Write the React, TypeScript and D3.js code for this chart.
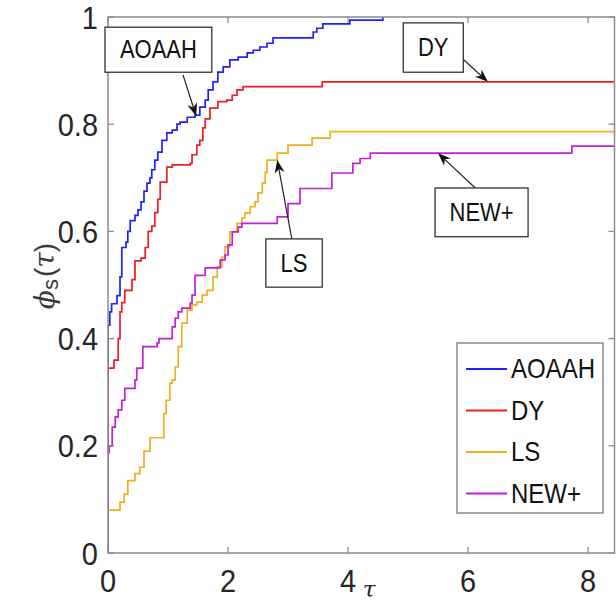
import React from 'react';
import * as d3 from 'd3';

// performance profile, step curves
const seriesNames = ['AOAAH', 'DY', 'LS', 'NEW+'];
const seriesColors = ['#1f1fff', '#ee1c24', '#edb120', '#c21fd9'];

const aoaah: [number, number][] = [
  [0, 0], [0, 0.425], [0.03, 0.45], [0.06, 0.465], [0.15, 0.48], [0.2, 0.515], [0.23, 0.57], [0.3, 0.58],
  [0.33, 0.6], [0.37, 0.62], [0.45, 0.63], [0.5, 0.64], [0.55, 0.655], [0.6, 0.675], [0.65, 0.69], [0.7, 0.7],
  [0.73, 0.715], [0.78, 0.733], [0.83, 0.748], [0.9, 0.77], [0.98, 0.784], [1.07, 0.789], [1.15, 0.8],
  [1.2, 0.804], [1.32, 0.813], [1.45, 0.817], [1.53, 0.832], [1.62, 0.845], [1.67, 0.864], [1.75, 0.879],
  [1.83, 0.897], [1.92, 0.907], [2.03, 0.92], [2.17, 0.925], [2.32, 0.933], [2.42, 0.938], [2.53, 0.944],
  [2.65, 0.951], [2.75, 0.961], [3.42, 0.972], [3.48, 0.979], [3.58, 0.987], [4.03, 0.994], [4.58, 1.0],
];
const dy: [number, number][] = [
  [0, 0], [0, 0.345], [0.1, 0.36], [0.17, 0.4], [0.2, 0.45], [0.23, 0.467], [0.28, 0.49], [0.4, 0.51],
  [0.45, 0.545], [0.55, 0.55], [0.62, 0.57], [0.67, 0.6], [0.73, 0.61], [0.78, 0.635], [0.83, 0.66],
  [0.87, 0.692], [0.98, 0.72], [1.07, 0.724], [1.37, 0.727], [1.4, 0.743], [1.48, 0.761], [1.53, 0.77],
  [1.58, 0.793], [1.62, 0.81], [1.7, 0.83], [1.83, 0.842], [1.98, 0.845], [2.07, 0.854], [2.15, 0.864],
  [2.25, 0.87], [3.57, 0.879], [8.44, 0.879],
];
const ls: [number, number][] = [
  [0, 0], [0, 0.08], [0.2, 0.095], [0.27, 0.11], [0.33, 0.135], [0.45, 0.148], [0.53, 0.16], [0.6, 0.19],
  [0.7, 0.215], [0.93, 0.26], [0.97, 0.285], [1.03, 0.317], [1.07, 0.323], [1.12, 0.347], [1.17, 0.385],
  [1.23, 0.429], [1.32, 0.453], [1.4, 0.463], [1.48, 0.468], [1.57, 0.481], [1.65, 0.49], [1.75, 0.515],
  [1.82, 0.534], [1.9, 0.552], [1.95, 0.571], [2.03, 0.599], [2.15, 0.615], [2.23, 0.625], [2.28, 0.634],
  [2.37, 0.646], [2.45, 0.655], [2.5, 0.672], [2.57, 0.69], [2.62, 0.71], [2.65, 0.733], [2.82, 0.746],
  [3.0, 0.761], [3.4, 0.774], [3.7, 0.786], [8.44, 0.786],
];
const newPlus: [number, number][] = [
  [0, 0], [0, 0.187], [0.02, 0.2], [0.07, 0.235], [0.12, 0.254], [0.17, 0.267], [0.23, 0.285], [0.28, 0.307],
  [0.45, 0.323], [0.48, 0.345], [0.58, 0.385], [0.82, 0.392], [0.85, 0.4], [1.07, 0.422], [1.12, 0.438],
  [1.17, 0.45], [1.23, 0.457], [1.37, 0.466], [1.4, 0.481], [1.45, 0.518], [1.62, 0.532], [1.87, 0.547],
  [1.95, 0.556], [2.0, 0.575], [2.07, 0.599], [2.17, 0.608], [2.23, 0.615], [2.82, 0.627], [3.0, 0.652],
  [3.2, 0.68], [3.73, 0.709], [4.08, 0.727], [4.2, 0.736], [4.37, 0.746], [7.73, 0.759], [8.44, 0.759],
];
const seriesData = [aoaah, dy, ls, newPlus];

const xTicks = [0, 2, 4, 6, 8];
const yTicks = [0, 0.2, 0.4, 0.6, 0.8, 1];

// text boxes with arrows, in data units
const annotations = [
  { label: 'AOAAH', box: [-0.05, 0.981, 1.73, 0.897], tail: [1.25, 0.892], head: [1.47, 0.815] },
  { label: 'DY', box: [4.92, 0.989, 5.92, 0.897], tail: [5.9, 0.923], head: [6.33, 0.879] },
  { label: 'NEW+', box: [5.45, 0.681, 7.0, 0.59], tail: [6.12, 0.681], head: [5.5, 0.746] },
  { label: 'LS', box: [2.63, 0.586, 3.57, 0.496], tail: [3.07, 0.582], head: [2.82, 0.733] },
];

const W = 616;
const H = 607;
const m = { left: 108, right: 614.5, top: 17, bottom: 553 };
const font = '"Liberation Sans", Arial, Helvetica, sans-serif';
const serif = '"DejaVu Serif", serif';

function Txt({ x, y, size, sy = 1.1, anchor = 'start', fill = '#262626', children }: any) {
  return (
    <text
      transform={`translate(${x},${y}) scale(1,${sy})`}
      fontSize={size}
      fontFamily={font}
      textAnchor={anchor}
      dominantBaseline="central"
      fill={fill}
    >
      {children}
    </text>
  );
}

export default function App() {
  const x = d3.scaleLinear().domain([0, 8.44]).range([m.left, m.right]);
  const y = d3.scaleLinear().domain([0, 1]).range([m.bottom, m.top]);
  const line = d3
    .line<[number, number]>()
    .x((d) => x(d[0]))
    .y((d) => y(d[1]))
    .curve(d3.curveStepAfter);

  const axisColor = '#8c8c8c';
  const tickLen = 6;

  return (
    <svg width={W} height={H} style={{ position: 'absolute', left: 0, top: 0, background: '#fff' }}>
      <defs>
        <clipPath id="plot">
          <rect x={m.left} y={m.top - 2} width={m.right - m.left} height={m.bottom - m.top + 2} />
        </clipPath>
      </defs>
      <rect width={W} height={H} fill="#fff" />

      {/* curves */}
      <g clipPath="url(#plot)">
        {seriesData.map((s, i) => (
          <path key={i} d={line(s) || ''} fill="none" stroke={seriesColors[i]} strokeWidth={1.7} />
        ))}
      </g>

      {/* axes box */}
      <rect
        x={m.left}
        y={m.top}
        width={m.right - m.left}
        height={m.bottom - m.top}
        fill="none"
        stroke={axisColor}
        strokeWidth={1.5}
      />
      {xTicks.map((t) => (
        <g key={'x' + t}>
          <line x1={x(t)} x2={x(t)} y1={m.bottom} y2={m.bottom - tickLen} stroke={axisColor} strokeWidth={1.3} />
          <line x1={x(t)} x2={x(t)} y1={m.top} y2={m.top + tickLen} stroke={axisColor} strokeWidth={1.3} />
          <Txt x={x(t)} y={580} size={29} anchor="middle">
            {String(t)}
          </Txt>
        </g>
      ))}
      {yTicks.map((t) => (
        <g key={'y' + t}>
          <line x1={m.left} x2={m.left + tickLen} y1={y(t)} y2={y(t)} stroke={axisColor} strokeWidth={1.3} />
          <line x1={m.right} x2={m.right - tickLen} y1={y(t)} y2={y(t)} stroke={axisColor} strokeWidth={1.3} />
          <Txt x={98} y={y(t)} size={29} anchor="end">
            {String(t)}
          </Txt>
        </g>
      ))}

      {/* axis labels */}
      <text x={369} y={589} fontSize={23} fontFamily={serif} fontStyle="italic" textAnchor="middle" dominantBaseline="central" fill="#262626">
        τ
      </text>
      <text
        transform="translate(44,276) rotate(-90)"
        fontSize={28}
        fontFamily={font}
        textAnchor="middle"
        dominantBaseline="central"
        fill="#3a3a3a"
      >
        <tspan fontStyle="italic" fontFamily={serif}>ϕ</tspan>
        <tspan fontSize={22} dy={6}>s</tspan>
        <tspan dy={-6} dx={2}>(</tspan>
        <tspan fontStyle="italic" fontFamily={serif}>τ</tspan>
        <tspan>)</tspan>
      </text>

      {/* annotations */}
      {annotations.map((a) => {
        const bx0 = x(a.box[0]);
        const by0 = y(a.box[1]);
        const bx1 = x(a.box[2]);
        const by1 = y(a.box[3]);
        const tx = x(a.tail[0]);
        const ty = y(a.tail[1]);
        const hx = x(a.head[0]);
        const hy = y(a.head[1]);
        const ang = Math.atan2(hy - ty, hx - tx);
        const L = 13;
        const hw = 5;
        const bx = hx - L * Math.cos(ang);
        const by = hy - L * Math.sin(ang);
        const p1 = [bx + hw * Math.sin(ang), by - hw * Math.cos(ang)];
        const p2 = [bx - hw * Math.sin(ang), by + hw * Math.cos(ang)];
        const notch = [hx - L * 0.7 * Math.cos(ang), hy - L * 0.7 * Math.sin(ang)];
        return (
          <g key={a.label}>
            <line x1={tx} y1={ty} x2={notch[0]} y2={notch[1]} stroke="#222" strokeWidth={1.2} />
            <polygon
              points={`${hx},${hy} ${p1[0]},${p1[1]} ${notch[0]},${notch[1]} ${p2[0]},${p2[1]}`}
              fill="#111"
            />
            <rect x={bx0} y={by0} width={bx1 - bx0} height={by1 - by0} fill="#fff" stroke="#222" strokeWidth={1.2} />
            <Txt x={(bx0 + bx1) / 2} y={(by0 + by1) / 2} size={22} sy={1.15} anchor="middle" fill="#111">
              {a.label}
            </Txt>
          </g>
        );
      })}

      {/* legend */}
      <g>
        <rect x={457} y={343} width={146} height={170} fill="#fff" stroke="#7a7a7a" strokeWidth={1.3} />
        {seriesNames.map((n, i) => {
          const ly = 369 + i * 41.5;
          return (
            <g key={n}>
              <line x1={466} x2={507} y1={ly} y2={ly} stroke={seriesColors[i]} strokeWidth={1.8} />
              <Txt x={511} y={ly} size={24} sy={1.12} fill="#111">
                {n}
              </Txt>
            </g>
          );
        })}
      </g>
    </svg>
  );
}
